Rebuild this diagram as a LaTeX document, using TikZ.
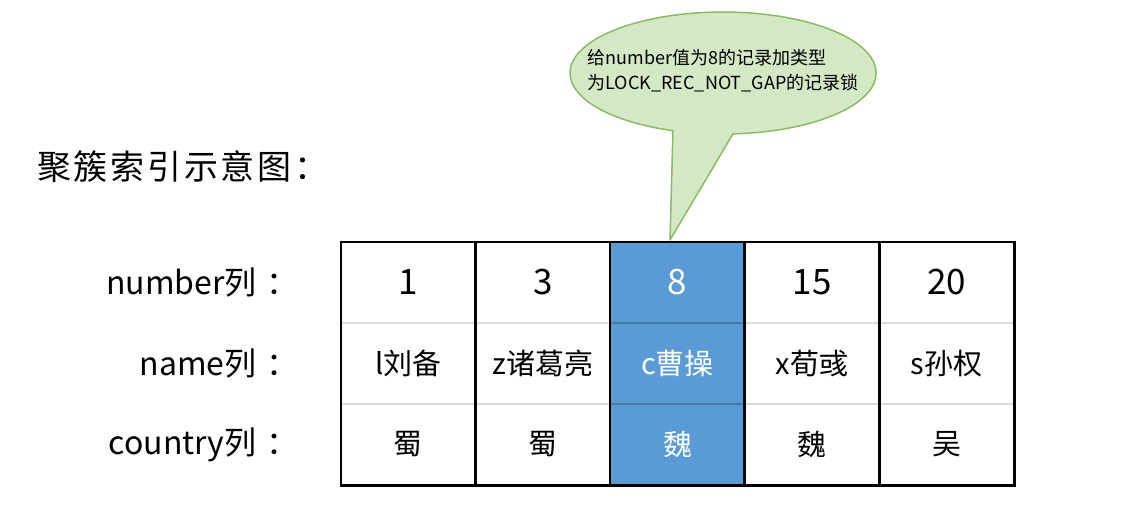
\documentclass[tikz,border=0pt]{standalone}
\usepackage{fontspec}
\setmainfont{Noto Sans CJK SC}
\definecolor{cellblue}{RGB}{91,155,213}
\definecolor{lineblue}{RGB}{68,120,172}
\definecolor{rowgray}{RGB}{220,220,220}
\definecolor{tipgreen}{RGB}{213,232,197}
\definecolor{tipedge}{RGB}{137,188,98}
\usetikzlibrary{positioning}

\begin{document}
\begin{tikzpicture}[x=1pt, y=-1pt,
  cell/.style={minimum width=134.6pt, minimum height=81pt, inner sep=0pt, font=\fontsize{29}{29}\selectfont},
  numcell/.style={cell, font=\fontsize{35}{35}\selectfont},
  rowlabel/.style={anchor=east, inner sep=0pt, font=\fontsize{32}{32}\selectfont},
  grid/.style={line width=2.6pt, black}
]
  \useasboundingbox (0,0) rectangle (1139,525);
  %% Title
  \node[anchor=west, inner sep=0pt, font=\fontsize{34}{34}\selectfont\addfontfeature{LetterSpace=8}] (title) at (37,167) {聚簇索引示意图：};
  %% Highlighted column
  \fill[cellblue] (609,242) rectangle (743.4,485);
  %% Cells
  \foreach \i/\num/\name/\land/\tc in {1/1/l刘备/蜀/black, 2/3/z诸葛亮/蜀/black, 3/8/c曹操/魏/white, 4/15/x荀彧/魏/black, 5/20/s孙权/吴/black} {
    \node[numcell, text=\tc] (n\i) at (341+134.6*\i-67.3, 282.5) {\num};
    \node[cell, text=\tc] (m\i) at (341+134.6*\i-67.3, 363.5) {\name};
    \node[cell, text=\tc] (c\i) at (341+134.6*\i-67.3, 444.5) {\land};
  }
  %% Row lines
  \draw[rowgray, line width=1.5pt] (n1.south west) -- (n5.south east);
  \draw[rowgray, line width=1.5pt] (m1.south west) -- (m5.south east);
  \draw[lineblue, line width=1.5pt] (n3.south west) -- (n3.south east);
  \draw[lineblue, line width=1.5pt] (m3.south west) -- (m3.south east);
  %% Column lines and frame
  \foreach \i in {2,...,5}
    \draw[grid] (n\i.north west) -- (c\i.south west);
  \draw[grid] (n1.north west) rectangle (c5.south east);
  %% Row labels
  \node[rowlabel, left=42pt of n1] (numlabel) {number列\hspace{10pt}：};
  \node[rowlabel, left=42pt of m1] (namelabel) {name列\hspace{10pt}：};
  \node[rowlabel, left=42pt of c1] (landlabel) {country列\hspace{10pt}：};
  %% Callout
  \coordinate (tip) at (670,240);
  \filldraw[fill=tipgreen, draw=tipedge, line width=1.5pt, line join=round]
    (732.9,133.9) arc[start angle=86.3, end angle=-250.9, x radius=153, y radius=61] -- (tip) -- cycle;
  \node[align=left, inner sep=0pt, font=\fontsize{18}{25}\selectfont] (note) at (723,71)
    {给number值为8的记录加类型\\为LOCK\_REC\_NOT\_GAP的记录锁};
\end{tikzpicture}
\end{document}
